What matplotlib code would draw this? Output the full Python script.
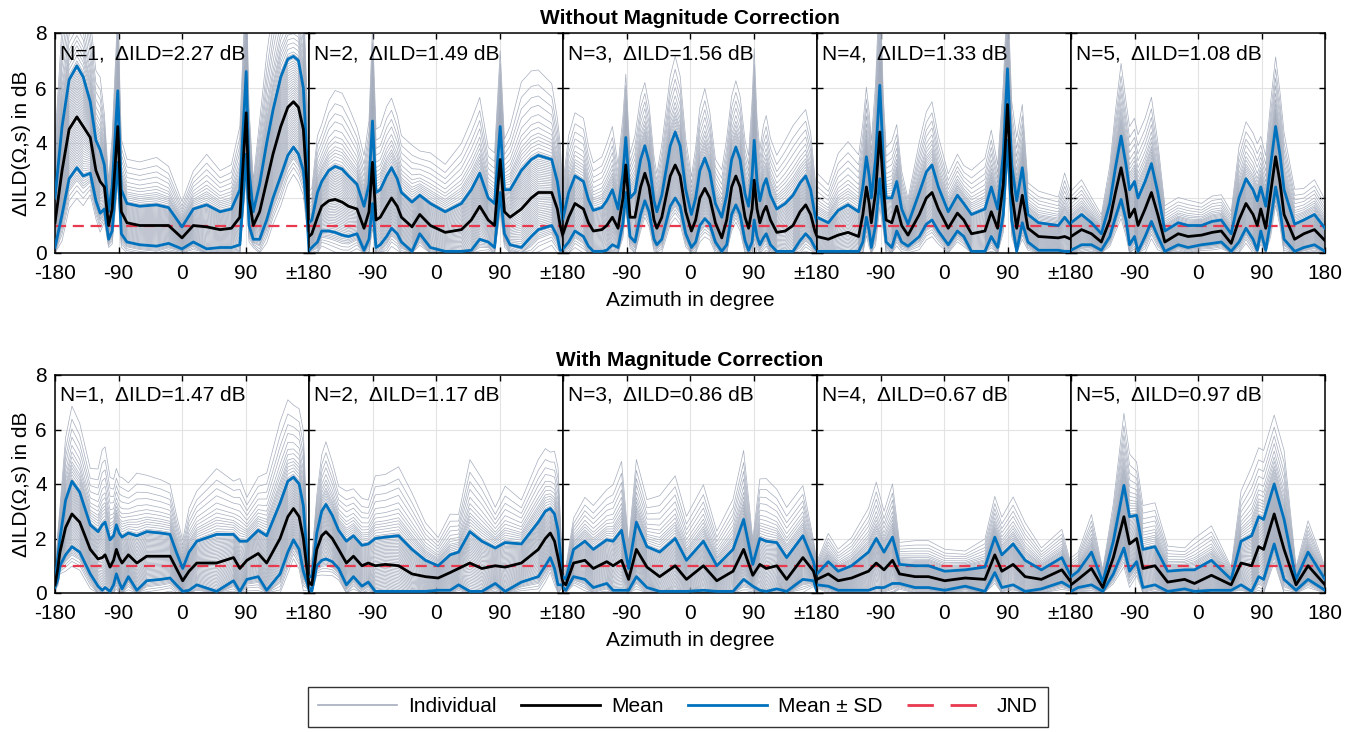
import numpy as np
import matplotlib
matplotlib.use('Agg')
import matplotlib.pyplot as plt
from matplotlib.lines import Line2D

plt.rcParams['font.family'] = ['Liberation Sans', 'DejaVu Sans']

# spherical harmonic orders and the average ILD error per order
orders = [1, 2, 3, 4, 5]
ild_without = [2.27, 1.49, 1.56, 1.33, 1.08]
ild_with = [1.47, 1.17, 0.86, 0.67, 0.97]

# ---- without magnitude correction: azimuth (deg), mean and SD of dILD (dB)
az_without = [
    [-180, -170, -160, -149, -140, -130, -122, -116, -110, -104, -99, -91, -86, -78, -60, -36, -19, 0, 16, 35,
     54, 70, 82, 91, 95, 101, 110, 120, 129, 140, 150, 158, 165, 172, 177, 180],
    [-180, -176, -168, -162, -152, -143, -133, -124, -112, -102, -95, -90, -85, -79, -70, -63, -55, -49, -34, -23,
     -8, 13, 36, 50, 62, 74, 83, 91, 97, 105, 121, 135, 145, 164, 172, 176, 180],
    [-180, -172, -163, -151, -144, -137, -125, -118, -110, -102, -95, -91, -85, -78, -70, -64, -58, -51, -47, -40,
     -28, -21, -14, -6, 2, 8, 14, 21, 28, 36, 45, 52, 59, 65, 71, 78, 83, 88, 91, 95,
     99, 104, 108, 114, 123, 135, 146, 156, 164, 171, 177, 180],
    [-180, -164, -150, -136, -121, -115, -110, -106, -103, -97, -91, -86, -82, -74, -67, -60, -51, -35, -25, -17,
     -8, 6, 19, 28, 39, 58, 67, 76, 84, 90, 96, 103, 111, 119, 134, 162, 171, 180],
    [-180, -165, -151, -137, -125, -117, -109, -102, -97, -90, -85, -75, -66, -57, -47, -28, -14, 5, 20, 33,
     47, 58, 68, 78, 84, 89, 96, 103, 110, 116, 122, 137, 150, 165, 180],
]
mean_without = [
    [1.1, 3.0, 4.5, 4.95, 4.6, 4.2, 3.0, 2.6, 2.4, 1.0, 1.6, 4.6, 1.5, 1.1, 1.0, 1.0, 1.0, 0.55, 1.0, 0.95,
     0.85, 0.9, 1.3, 5.1, 2.0, 1.0, 1.5, 2.6, 3.6, 4.6, 5.3, 5.5, 5.3, 4.5, 2.5, 0.8],
    [0.6, 0.7, 1.3, 1.7, 1.9, 1.95, 1.85, 1.7, 1.6, 0.9, 1.5, 3.3, 1.2, 1.3, 1.7, 2.0, 1.7, 1.3, 0.95, 1.4,
     1.0, 0.75, 0.85, 1.2, 1.7, 1.2, 1.0, 3.4, 1.5, 1.3, 1.6, 2.0, 2.2, 2.2, 1.6, 1.0, 0.6],
    [0.7, 1.3, 1.8, 1.6, 1.1, 0.8, 0.85, 1.0, 1.3, 0.9, 2.0, 3.2, 1.3, 1.3, 2.4, 2.9, 2.4, 1.2, 0.9, 1.3,
     2.8, 3.2, 2.8, 1.5, 0.8, 1.2, 2.0, 2.35, 2.0, 1.1, 0.55, 1.2, 2.4, 2.8, 2.4, 1.3, 0.9, 1.6, 2.65, 1.6,
     1.1, 1.5, 1.7, 1.2, 0.75, 0.8, 1.0, 1.5, 1.75, 1.4, 0.8, 0.6],
    [0.6, 0.5, 0.65, 0.75, 0.6, 1.4, 2.4, 1.8, 1.1, 2.2, 4.4, 2.4, 1.2, 1.1, 1.7, 1.0, 0.65, 1.4, 2.0, 2.2,
     1.6, 0.9, 1.45, 1.2, 0.7, 0.8, 1.5, 0.9, 2.5, 5.4, 2.2, 0.9, 2.1, 0.9, 0.6, 0.55, 0.6, 0.5],
    [0.6, 0.85, 0.7, 0.4, 1.2, 2.2, 3.1, 2.2, 1.3, 1.6, 1.0, 1.6, 2.2, 1.4, 0.4, 0.7, 0.6, 0.65, 0.75, 0.8,
     0.35, 1.2, 1.8, 1.4, 1.0, 1.6, 0.9, 2.2, 3.5, 2.6, 1.4, 0.5, 0.7, 0.85, 0.45],
]
sd_without = [
    [0.9, 1.6, 1.8, 1.85, 1.8, 1.3, 1.1, 1.15, 0.8, 0.5, 0.8, 1.3, 0.8, 0.7, 0.7, 0.75, 0.65, 0.4, 0.6, 0.8,
     0.65, 0.7, 1.0, 1.5, 1.0, 0.5, 1.0, 1.4, 1.6, 1.8, 1.75, 1.65, 1.7, 1.5, 1.0, 0.9],
    [0.5, 0.5, 0.9, 0.9, 1.1, 1.2, 1.2, 1.1, 0.9, 0.8, 1.0, 1.5, 1.0, 1.0, 1.1, 1.1, 1.0, 0.9, 0.9, 0.7,
     0.8, 0.75, 0.95, 1.1, 1.2, 0.8, 0.8, 1.2, 0.8, 1.0, 1.4, 1.4, 1.35, 1.2, 1.0, 0.9, 0.5],
    [0.55, 0.9, 1.0, 1.0, 0.85, 0.75, 0.8, 0.9, 1.0, 0.7, 0.9, 1.0, 0.7, 0.9, 1.0, 1.0, 0.9, 0.7, 0.6, 0.8,
     1.1, 1.2, 1.1, 0.8, 0.6, 0.8, 1.0, 1.1, 0.95, 0.7, 0.75, 0.9, 1.0, 1.05, 1.0, 0.85, 0.8, 1.2, 1.45, 1.0,
     0.8, 0.95, 1.0, 0.9, 0.85, 1.0, 1.1, 1.05, 1.05, 0.9, 0.6, 0.5],
    [0.7, 0.6, 0.9, 1.0, 0.9, 1.0, 1.1, 1.0, 0.9, 1.2, 1.7, 1.0, 0.8, 0.9, 0.9, 0.6, 0.4, 0.8, 0.95, 1.0,
     0.8, 0.6, 0.65, 0.6, 0.7, 0.8, 0.9, 0.7, 1.1, 1.3, 1.0, 1.0, 1.0, 0.5, 0.5, 0.45, 0.7, 0.5],
    [0.5, 0.55, 0.4, 0.3, 0.6, 0.9, 1.15, 1.0, 1.0, 1.0, 1.0, 1.0, 1.05, 0.8, 0.4, 0.4, 0.4, 0.35, 0.4, 0.4,
     0.35, 0.8, 0.9, 0.9, 0.9, 0.8, 0.8, 1.0, 1.1, 1.0, 0.9, 0.55, 0.5, 0.55, 0.45],
]

# ---- with magnitude correction
az_with = [
    [-180, -176, -173, -165, -156, -145, -130, -119, -113, -109, -102, -97, -93, -89, -85, -76, -64, -50, -30, -17,
     -8, 1, 10, 21, 49, 73, 82, 92, 108, 120, 139, 150, 158, 166, 172, 177, 180],
    [-180, -176, -169, -162, -156, -147, -138, -127, -117, -105, -96, -86, -72, -53, -34, -15, 3, 20, 32, 48,
     65, 84, 98, 121, 145, 155, 162, 168, 173, 179, 180],
    [-180, -176, -165, -149, -137, -118, -109, -97, -87, -76, -61, -43, -21, -5, 19, 38, 61, 76, 89, 99,
     108, 123, 137, 160, 175, 180],
    [-180, -164, -150, -131, -107, -96, -85, -73, -63, -41, -22, 1, 30, 58, 72, 82, 98, 115, 138, 167, 180],
    [-180, -170, -151, -135, -120, -105, -97, -87, -78, -61, -43, -19, -5, 19, 47, 61, 76, 86, 93, 108,
     122, 139, 156, 180],
]
mean_with = [
    [0.3, 0.9, 1.5, 2.4, 2.9, 2.6, 1.6, 1.25, 1.3, 1.4, 0.95, 1.2, 1.6, 1.3, 1.1, 1.4, 1.1, 1.35, 1.35, 1.35,
     0.9, 0.45, 0.8, 1.1, 1.1, 1.3, 0.9, 1.2, 1.45, 1.1, 2.0, 2.8, 3.1, 2.8, 2.0, 0.9, 0.2],
    [0.4, 0.3, 1.6, 2.1, 2.25, 2.0, 1.6, 1.1, 1.35, 1.0, 1.1, 1.0, 1.05, 1.0, 0.7, 0.6, 0.55, 0.75, 0.9, 1.1,
     0.9, 1.0, 0.95, 1.1, 1.6, 2.0, 2.2, 1.9, 1.3, 0.5, 0.4],
    [0.4, 0.3, 1.1, 1.2, 0.9, 1.15, 1.0, 1.2, 0.5, 1.6, 0.95, 0.6, 1.0, 0.5, 1.0, 0.45, 0.8, 1.6, 0.65, 1.05,
     0.9, 1.0, 0.5, 1.3, 0.8, 0.3],
    [0.5, 0.7, 0.45, 0.55, 0.8, 1.1, 0.85, 1.2, 0.7, 0.6, 0.6, 0.45, 0.55, 0.5, 1.4, 0.8, 1.05, 0.6, 0.5, 0.85, 0.4],
    [0.3, 0.5, 0.9, 0.2, 1.3, 2.8, 1.8, 2.0, 0.9, 1.0, 0.4, 0.5, 0.35, 0.65, 0.3, 1.1, 1.0, 1.7, 1.6, 2.9,
     1.6, 0.3, 1.0, 0.3],
]
sd_with = [
    [0.1, 0.4, 0.5, 1.0, 1.2, 1.1, 0.9, 1.0, 1.2, 1.2, 1.0, 0.9, 0.9, 0.9, 0.95, 0.8, 1.0, 0.9, 0.85, 0.8,
     0.6, 0.45, 0.7, 0.8, 1.05, 0.85, 1.0, 0.7, 0.85, 1.0, 1.3, 1.3, 1.15, 1.2, 1.2, 0.5, 0.1],
    [0.2, 0.3, 0.6, 0.9, 1.0, 0.85, 0.7, 0.8, 0.75, 0.75, 0.7, 1.0, 1.0, 1.1, 0.9, 0.6, 0.45, 0.65, 0.6, 1.15,
     1.0, 0.65, 0.9, 0.7, 1.0, 1.0, 0.9, 1.0, 1.0, 0.2, 0.2],
    [0.2, 0.2, 0.5, 0.7, 0.7, 0.8, 0.9, 1.1, 0.4, 1.0, 0.75, 0.9, 1.0, 0.7, 0.9, 0.55, 0.8, 1.1, 0.4, 0.95,
     1.0, 0.85, 0.8, 0.8, 0.35, 0.25],
    [0.2, 0.45, 0.35, 0.45, 0.7, 0.9, 0.65, 0.85, 0.35, 0.4, 0.4, 0.35, 0.3, 0.45, 0.65, 0.6, 0.75, 0.6, 0.35, 0.45, 0.2],
    [0.3, 0.3, 0.6, 0.2, 0.6, 1.15, 1.0, 0.85, 0.7, 0.7, 0.4, 0.35, 0.5, 0.55, 0.2, 0.8, 1.1, 1.1, 1.1, 1.1,
     1.1, 0.2, 0.5, 0.2],
]

# deviation of each listener's curve from the mean, in units of SD
subject_z = [-1.6, -1.45, -1.35, -1.25, -1.2, -1.15, -1.1, -1.05, -1.0, -0.95, -0.9, -0.85, -0.8, -0.75,
             -0.7, -0.65, -0.6, -0.55, -0.5, -0.45, -0.4, -0.35, -0.3, -0.25, -0.2, -0.15, -0.1, -0.05,
             0.0, 0.05, 0.1, 0.15, 0.2, 0.25, 0.3, 0.35, 0.4, 0.45, 0.5, 0.55, 0.6, 0.65, 0.7, 0.75,
             0.8, 0.85, 0.9, 0.95, 1.0, 1.05, 1.1, 1.2, 1.3, 1.4, 1.5, 1.6, 1.75, 1.9, 2.1, 2.35,
             2.6, 2.9, 3.3]

jnd = 1.0

c_ind = '#a5adbd'
c_mean = 'black'
c_sd = '#0072bd'
c_jnd = '#e8394f'
fs = 15

W, H = 1357, 732
fig = plt.figure(figsize=(W / 100, H / 100), dpi=100)

x0, pw = 55, 254
rows = [
    ('Without Magnitude Correction', 33, 253, az_without, mean_without, sd_without, ild_without),
    ('With Magnitude Correction', 375, 593, az_with, mean_with, sd_with, ild_with),
]

for title, top, bot, az_set, mean_set, sd_set, ild_set in rows:
    for i, n in enumerate(orders):
        ax = fig.add_axes([(x0 + i * pw) / W, 1 - bot / H, pw / W, (bot - top) / H])
        az = np.array(az_set[i])
        m = np.array(mean_set[i])
        s = np.array(sd_set[i])

        for z in subject_z:
            ax.plot(az, np.clip(m + z * s, 0, None), color=c_ind, lw=0.5, zorder=1)
        ax.axhline(jnd, color=c_jnd, lw=1.6, ls=(0, (5, 3)), zorder=2)
        ax.plot(az, m + s, color=c_sd, lw=2.0, zorder=3)
        # lower SD curve is kept just above the axis floor
        ax.plot(az, np.clip(m - s, 0.06, None), color=c_sd, lw=2.0, zorder=3)
        ax.plot(az, m, color=c_mean, lw=2.0, zorder=4)

        ax.set_xlim(-180, 180)
        ax.set_ylim(0, 8)
        ax.set_xticks([-180, -90, 0, 90, 180])
        last = '180' if i == len(orders) - 1 else '\u00b1180'
        first = '-180' if i == 0 else ''
        ax.set_xticklabels([first, '-90', '0', '90', last])
        ax.set_yticks([0, 2, 4, 6, 8])
        if i > 0:
            ax.set_yticklabels([])
        ax.tick_params(direction='in', top=True, right=True, labelsize=fs, length=4, width=1, pad=6)
        ax.tick_params(axis='x', pad=8)
        ax.grid(True, color='#e3e3e3', lw=0.8)
        ax.set_axisbelow(True)
        for sp in ax.spines.values():
            sp.set_linewidth(1.1)

        ax.text(0.02, 0.95, 'N=%d,  \u0394ILD=%.2f dB' % (n, ild_set[i]), transform=ax.transAxes,
                fontsize=fs, ha='left', va='top', zorder=6)

    xc = (x0 + 2.5 * pw) / W
    fig.text(xc, 1 - (top - 15) / H, title, ha='center', va='center', fontsize=fs, fontweight='bold')
    fig.text(xc, 1 - (bot + 47) / H, 'Azimuth in degree', ha='center', va='center', fontsize=fs)
    fig.text(22 / W, 1 - (top + bot) / 2 / H, '\u0394ILD(\u03a9,s) in dB', rotation=90,
             ha='center', va='center', fontsize=fs)

handles = [
    Line2D([], [], color=c_ind, lw=1.2),
    Line2D([], [], color=c_mean, lw=2.0),
    Line2D([], [], color=c_sd, lw=2.0),
    Line2D([], [], color=c_jnd, lw=2.0, ls=(0, (9.5, 6))),
]
labels = ['Individual', 'Mean', 'Mean \u00b1 SD', 'JND']
leg = fig.legend(handles, labels, loc='center', bbox_to_anchor=(678 / W, 1 - 707 / H), ncol=4,
                 fontsize=fs, frameon=True, fancybox=False, edgecolor='#333333', framealpha=1,
                 handlelength=3.8, handletextpad=0.5, columnspacing=1.2, borderpad=0.5)
leg.get_frame().set_linewidth(1.0)

fig.savefig('out.png', dpi=100)
